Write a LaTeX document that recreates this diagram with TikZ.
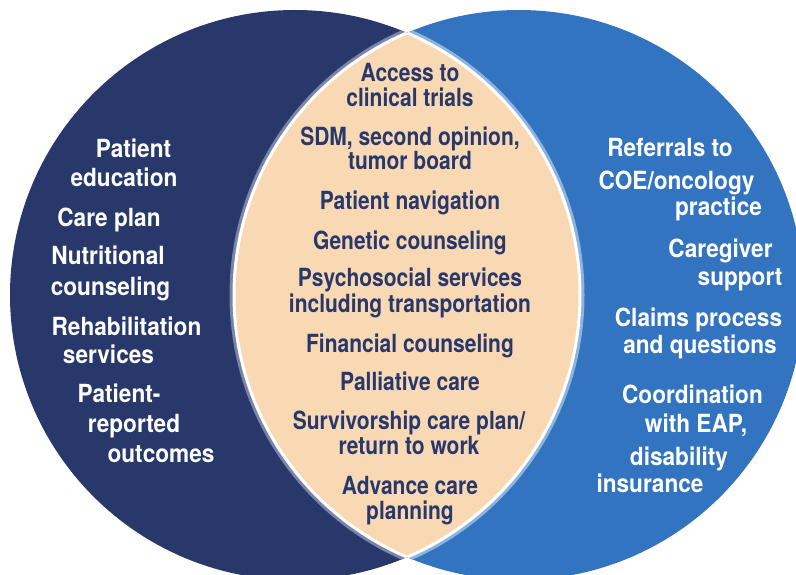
\documentclass[tikz,border=0pt]{standalone}
\usepackage{fontspec}
\newfontfamily\vennfont{TeX Gyre Heros}[FakeStretch=0.84]
\newfontfamily\outfont{TeX Gyre Heros}[FakeStretch=0.905]
\definecolor{navy}{RGB}{40,56,106}
\definecolor{skyblue}{RGB}{50,116,192}
\definecolor{peach}{RGB}{249,216,180}
\definecolor{navyedge}{RGB}{122,132,168}
\definecolor{skyedge}{RGB}{140,180,225}
\tikzset{
  venntext/.style={font=\vennfont\bfseries\fontsize{25}{25}\selectfont, inner sep=0pt, anchor=base},
  outtext/.style={venntext, font=\outfont\bfseries\fontsize{25}{25}\selectfont, text=white},
  lenstext/.style={venntext, text=navy, align=center},
}
\begin{document}
\begin{tikzpicture}[x=1pt,y=-1pt]
            \useasboundingbox (0,0) rectangle (796,575);
            \coordinate (L) at (295,295);
            \coordinate (R) at (519,295);
            % the two circles
            \fill [navy] (L) circle (285pt);
            \fill [skyblue] (R) circle (285pt);
            % shaded rims round the overlap
            \begin{scope}
                \clip (L) circle (285pt);
                \draw [navyedge, line width=9pt] (R) circle (285pt);
            \end{scope}
            \begin{scope}
                \clip (R) circle (285pt);
                \draw [skyedge, line width=9pt] (L) circle (285pt);
            \end{scope}
            % the overlap
            \begin{scope}
                \clip (L) circle (285pt);
                \fill [peach] (R) circle (285pt);
                \draw [white, line width=3pt] (R) circle (285pt);
            \end{scope}
            \begin{scope}
                \clip (R) circle (285pt);
                \draw [white, line width=3pt] (L) circle (285pt);
            \end{scope}
            % left circle
            \node [outtext] (edua) at (133.5,158) {Patient};
            \node [outtext] (edub) at (124,187) {education};
            \node [outtext] (careplan) at (109,226) {Care plan};
            \node [outtext] (nutria) at (108,265) {Nutritional};
            \node [outtext] (nutrib) at (110.5,295) {counseling};
            \node [outtext] (rehaba) at (126.5,335) {Rehabilitation};
            \node [outtext] (rehabb) at (108.5,363) {services};
            \node [outtext] (proa) at (119,402) {Patient-};
            \node [outtext] (prob) at (134,432) {reported};
            \node [outtext] (proc) at (161,462) {outcomes};
            % overlap (base = last line)
            \node [lenstext] (access) at (410,107) {Access to\\clinical trials};
            \node [lenstext] (sdm) at (410,170) {SDM, second opinion,\\[-1pt]tumor board};
            \node [lenstext] (navig) at (410,210) {Patient navigation};
            \node [lenstext] (genetic) at (410,249) {Genetic counseling};
            \node [lenstext] (psych) at (410,312) {Psychosocial services\\including transportation};
            \node [lenstext] (financial) at (410,352) {Financial counseling};
            \node [lenstext] (palliative) at (410,390) {Palliative care};
            \node [lenstext] (surviv) at (409,454) {Survivorship care plan/\\return to work};
            \node [lenstext] (advance) at (410,519) {Advance care\\planning};
            % right circle
            \node [outtext] (refera) at (670,157) {Referrals to};
            \node [outtext] (referb) at (676.5,190) {COE/oncology};
            \node [outtext] (referc) at (718.5,216) {practice};
            \node [outtext] (carera) at (720.5,258) {Caregiver};
            \node [outtext] (carerb) at (740,285) {support};
            \node [outtext] (claimsa) at (698.5,326) {Claims process};
            \node [outtext] (claimsb) at (700,353) {and questions};
            \node [outtext] (coorda) at (692.5,403) {Coordination};
            \node [outtext] (coordb) at (696,432) {with EAP,};
            \node [outtext] (coordc) at (679,465) {disability};
            \node [outtext] (coordd) at (650,492) {insurance};
        \end{tikzpicture}
\end{document}
